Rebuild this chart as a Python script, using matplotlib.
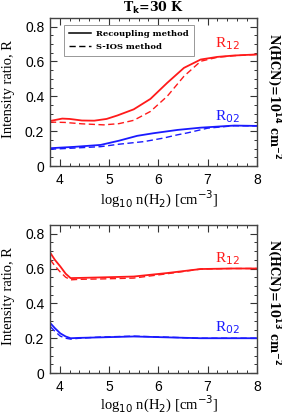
import matplotlib
matplotlib.use("Agg")
import matplotlib.pyplot as plt
from matplotlib.ticker import MultipleLocator
from matplotlib.lines import Line2D

# ---- data ----
# Top panel: N(HCN)=1e14
x_top_r12 = [3.8, 4.05, 4.2, 4.45, 4.7, 4.95, 5.17, 5.5, 5.84, 6.18, 6.52, 6.86, 7.2, 7.54, 8.0]
top_r12_rec = [0.258, 0.272, 0.270, 0.261, 0.260, 0.270, 0.290, 0.325, 0.385, 0.477, 0.563, 0.611, 0.626, 0.634, 0.640]
x_top_r12d = [3.8, 4.1, 4.45, 4.89, 5.2, 5.5, 5.84, 6.18, 6.52, 6.86, 7.2, 7.54, 8.0]
top_r12_sios = [0.252, 0.250, 0.242, 0.236, 0.243, 0.262, 0.313, 0.400, 0.515, 0.601, 0.624, 0.633, 0.640]

x_top_r02 = [3.8, 4.3, 4.83, 5.2, 5.57, 5.9, 6.39, 6.86, 7.54, 8.0]
top_r02_rec = [0.102, 0.110, 0.121, 0.145, 0.173, 0.188, 0.207, 0.220, 0.232, 0.230]
x_top_r02d = [3.8, 4.3, 4.83, 5.2, 5.71, 6.1, 6.39, 6.59, 7.0, 7.54, 8.0]
top_r02_sios = [0.096, 0.103, 0.111, 0.125, 0.140, 0.160, 0.179, 0.190, 0.217, 0.231, 0.230]

# Bottom panel: N(HCN)=1e13
x_bot = [3.81, 3.9, 4.01, 4.12, 4.22, 4.4, 4.83, 5.5, 6.18, 6.86, 7.5, 8.0]
bot_r12_rec = [0.689, 0.650, 0.612, 0.570, 0.545, 0.546, 0.549, 0.554, 0.574, 0.597, 0.600, 0.600]
bot_r12_sios = [0.650, 0.615, 0.580, 0.550, 0.535, 0.538, 0.540, 0.545, 0.570, 0.597, 0.600, 0.600]
bot_r02_rec = [0.286, 0.258, 0.228, 0.210, 0.200, 0.202, 0.205, 0.210, 0.205, 0.200, 0.200, 0.200]
bot_r02_sios = [0.266, 0.240, 0.212, 0.200, 0.195, 0.200, 0.207, 0.212, 0.206, 0.200, 0.200, 0.200]

xticks = [4, 5, 6, 7, 8]
yticks = [0, 0.2, 0.4, 0.6, 0.8]
ytick_labels = ["0", "0.2", "0.4", "0.6", "0.8"]

RED = "#ff1a1a"
BLUE = "#1a1aff"
SERIF = "Liberation Serif"
BSERIF = "DejaVu Serif"
SANS = "Liberation Sans"
DASH = (0, (4.5, 2.5))

fig = plt.figure(figsize=(2.82, 4.15), dpi=100)
ax1 = fig.add_axes([0.177, 0.600, 0.734, 0.357])
ax2 = fig.add_axes([0.177, 0.101, 0.734, 0.357])

def style(ax, xlab_y):
    ax.set_xlim(3.8, 8)
    ax.set_ylim(0, 0.85)
    ax.set_xticks(xticks)
    ax.set_xticklabels([str(t) for t in xticks], family=SANS, fontsize=10)
    ax.set_yticks(yticks)
    ax.set_yticklabels(ytick_labels, family=SANS, fontsize=10)
    ax.xaxis.set_minor_locator(MultipleLocator(0.2))
    ax.yaxis.set_minor_locator(MultipleLocator(0.05))
    ax.tick_params(which="both", direction="in", top=True, right=True, colors="#333333",
                   labelcolor="black")
    ax.tick_params(axis="x", which="major", pad=5)
    ax.tick_params(axis="y", which="major", pad=4)
    ax.tick_params(which="major", length=5, width=0.8)
    ax.tick_params(which="minor", length=2.5, width=0.7)
    for s in ax.spines.values():
        s.set_color("#444444")
        s.set_linewidth(1.0)
    ax.set_ylabel("Intensity ratio, R", family=SERIF, fontsize=10.5)
    ax.yaxis.set_label_coords(-0.17, 0.52)
    ax.set_xlabel(r"log$_{10}$ n(H$_2$) [cm$^{-3}$]", family=SERIF, fontsize=10.5)
    ax.xaxis.set_label_coords(0.53, xlab_y)

lw = 1.3
ax1.plot(x_top_r12, top_r12_rec, color=RED, lw=lw)
ax1.plot(x_top_r12d, top_r12_sios, color=RED, lw=1.0, ls=DASH)
ax1.plot(x_top_r02, top_r02_rec, color=BLUE, lw=lw)
ax1.plot(x_top_r02d, top_r02_sios, color=BLUE, lw=1.0, ls=DASH)
style(ax1, -0.155)
ax1.text(7.4, 0.70, r"R$_{12}$", color=RED, family=SERIF, fontsize=11, ha="center", va="center")
ax1.text(7.4, 0.285, r"R$_{02}$", color=BLUE, family=SERIF, fontsize=11, ha="center", va="center")

handles = [Line2D([], [], color="black", lw=1.1),
           Line2D([], [], color="black", lw=1.0, ls=DASH)]
leg = ax1.legend(handles, ["Recoupling method", "S-IOS method"], loc="upper left",
                 bbox_to_anchor=(0.068, 0.955), prop={"family": BSERIF, "size": 6.0, "weight": "bold"},
                 fancybox=False, edgecolor="#888888", framealpha=1, handlelength=2.6,
                 borderpad=0.6, labelspacing=0.6, handletextpad=0.7, borderaxespad=0)
leg.get_frame().set_linewidth(0.6)

ax1.text(0.5, 1.07, r"T$_\mathbf{k}$=30 K", transform=ax1.transAxes, ha="center", va="center",
         family=BSERIF, fontsize=9, fontweight="bold")
ax1.text(1.08, 0.47, r"N(HCN)=10$^\mathbf{14}$ cm$^\mathbf{-2}$", transform=ax1.transAxes,
         rotation=270, ha="center", va="center", family=BSERIF, fontsize=8.3, fontweight="bold")

ax2.plot(x_bot, bot_r12_rec, color=RED, lw=lw)
ax2.plot(x_bot, bot_r12_sios, color=RED, lw=1.0, ls=DASH)
ax2.plot(x_bot, bot_r02_rec, color=BLUE, lw=lw)
ax2.plot(x_bot, bot_r02_sios, color=BLUE, lw=1.0, ls=DASH)
style(ax2, -0.14)
ax2.text(7.4, 0.655, r"R$_{12}$", color=RED, family=SERIF, fontsize=11, ha="center", va="center")
ax2.text(7.4, 0.258, r"R$_{02}$", color=BLUE, family=SERIF, fontsize=11, ha="center", va="center")
ax2.text(1.08, 0.48, r"N(HCN)=10$^\mathbf{13}$ cm$^\mathbf{-2}$", transform=ax2.transAxes,
         rotation=270, ha="center", va="center", family=BSERIF, fontsize=8.3, fontweight="bold")

fig.savefig("out.png", dpi=100)
